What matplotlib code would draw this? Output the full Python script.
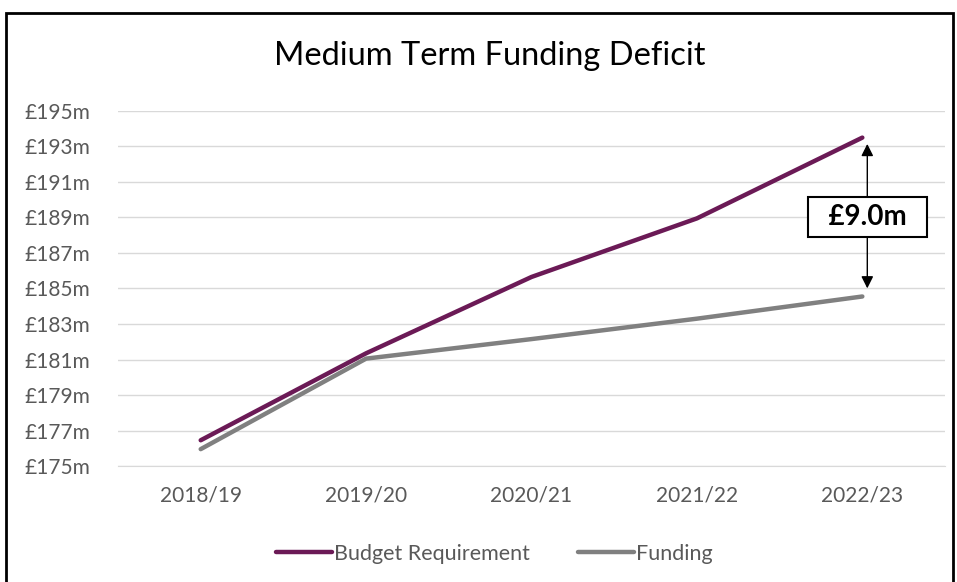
import matplotlib.pyplot as plt
from matplotlib.patches import Rectangle

plt.rcParams['font.family'] = ['Lato', 'DejaVu Sans']

# Data
years = ["2018/19", "2019/20", "2020/21", "2021/22", "2022/23"]
budget = [176.45, 181.35, 185.65, 188.95, 193.5]
funding = [175.95, 181.05, 182.15, 183.3, 184.55]
yticks = list(range(175, 196, 2))
gap_label = "£9.0m"

fig = plt.figure(figsize=(9.57, 5.82), dpi=100)
ax = fig.add_axes([0.1233, 0.1993, 0.8642, 0.61])

x = range(len(years))
ax.plot(x, budget, color='#6B1A56', lw=3.2, label="Budget Requirement", solid_capstyle='round')
ax.plot(x, funding, color='#808080', lw=3.2, label="Funding", solid_capstyle='round')

ax.set_xlim(-0.5, len(years) - 0.5)
ax.set_ylim(175, 195)
ax.set_yticks(yticks)
ax.set_yticklabels([f"£{v}m" for v in yticks])
ax.set_xticks(list(x))
ax.set_xticklabels(years)
ax.tick_params(colors='#595959', labelsize=15, length=0)
ax.tick_params(axis='y', pad=20)
ax.tick_params(axis='x', pad=14)
ax.grid(axis='y', color='#D9D9D9', lw=1)
ax.set_axisbelow(True)
for s in ['top', 'right', 'left']:
    ax.spines[s].set_visible(False)
ax.spines['bottom'].set_color('#D9D9D9')

# gap annotation
xa = 4.03
ymid = 189.03
ax.annotate("", xy=(xa, budget[-1] - 0.2), xytext=(xa, ymid + 1.0),
            arrowprops=dict(arrowstyle='-|>', color='black', lw=1, mutation_scale=18))
ax.annotate("", xy=(xa, funding[-1] + 0.3), xytext=(xa, ymid - 1.0),
            arrowprops=dict(arrowstyle='-|>', color='black', lw=1, mutation_scale=18))
ax.text(xa, ymid, "  " + gap_label + "  ", ha='center', va='center', fontsize=20, fontweight='bold',
        bbox=dict(boxstyle='square,pad=0.25', fc='white', ec='black', lw=1.5))

fig.suptitle("Medium Term Funding Deficit", x=0.512, y=0.93, fontsize=23.5, color='black')

leg = ax.legend(loc='upper center', bbox_to_anchor=(0.455, -0.165), ncol=2, frameon=False,
                fontsize=15.5, handlelength=2.6, handletextpad=0.1, columnspacing=2.2)
for t in leg.get_texts():
    t.set_color('#595959')

# outer frame
fig.patches.append(Rectangle((6 / 957, -0.05), 947 / 957, 1.05 - 13 / 582, transform=fig.transFigure,
                             fill=False, ec='black', lw=2))

plt.savefig("out.png", dpi=100)
